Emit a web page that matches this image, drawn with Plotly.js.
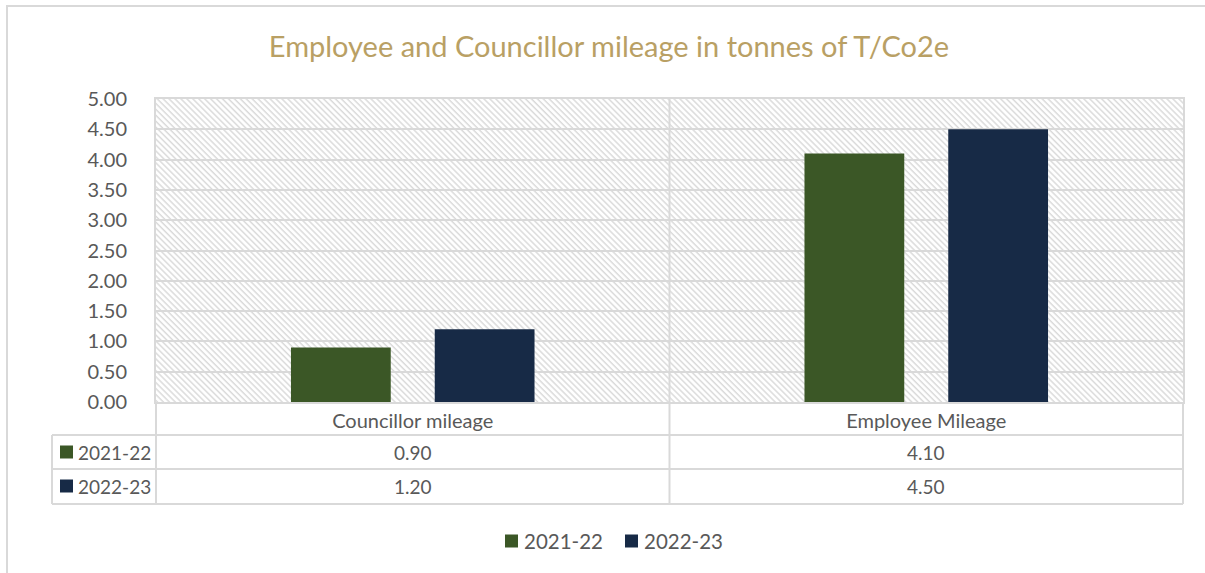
<!DOCTYPE html>
<html>
<head>
<meta charset="utf-8">
<script src="https://cdn.plot.ly/plotly-3.0.1.min.js"></script>
<style>html,body{margin:0;padding:0;background:#fff;}#chart{width:1205px;height:573px;}</style>
</head>
<body>
<div id="chart"></div>
<script>
// ---- data ----
const categories = ['Councillor mileage', 'Employee Mileage'];
const seriesNames = ['2021-22', '2022-23'];
const values2021_22 = [0.90, 4.10];
const values2022_23 = [1.20, 4.50];
const seriesColors = ['#3b5726', '#172a46'];
const chartTitle = 'Employee and Councillor mileage in tonnes of T/Co2e';

// ---- geometry ----
const W = 1205, H = 573;
const L = 156, R = 1183, T = 99, B = 402;
const pw = R - L, ph = B - T;
const px = x => (x - L) / pw;
const py = y => (B - y) / ph;
const grid = '#d9d9d9';
const textCol = '#595959';
const FONT = 'Lato, "Open Sans", sans-serif';

const seriesValues = [values2021_22, values2022_23];
const traces = seriesNames.map((name, i) => ({
  type: 'bar', name: name, x: categories, y: seriesValues[i],
  marker: {color: seriesColors[i], line: {width: 0}},
  hoverinfo: 'x+y+name', showlegend: false
}));

// hatch background
const hatch = "<svg xmlns='http://www.w3.org/2000/svg' width='" + pw + "' height='" + ph + "' preserveAspectRatio='none'>" +
  "<defs><pattern id='p' width='4.2' height='4.2' patternUnits='userSpaceOnUse' patternTransform='rotate(-45)'>" +
  "<line x1='1' y1='0' x2='1' y2='4.2' stroke='#dadada' stroke-width='1.5'/></pattern></defs>" +
  "<rect width='100%' height='100%' fill='url(#p)'/></svg>";

const line = (x0, y0, x1, y1, xref) => ({
  type: 'line', xref: xref || 'paper', yref: 'paper',
  x0: x0, y0: y0, x1: x1, y1: y1, line: {color: grid, width: 2}, layer: 'above'
});
const square = (x, y, color) => ({
  type: 'rect', xref: 'paper', yref: 'paper', x0: px(x), x1: px(x + 13), y0: py(y + 6.5), y1: py(y - 6.5),
  fillcolor: color, line: {width: 0}, layer: 'above'
});

const rowY = [452, 486];
const legSq = [505, 625];
const shapes = [
  // outer frame
  {type: 'rect', xref: 'paper', yref: 'paper', x0: px(7), y0: py(600), x1: px(1230), y1: py(6), line: {color: grid, width: 2}, fillcolor: 'rgba(0,0,0,0)'},
  line(px(52), py(435), px(R), py(435)),
  line(px(52), py(469), px(R), py(469)),
  line(px(52), py(504), px(R), py(504)),
  line(px(52), py(435), px(52), py(504)),
  line(px(L), py(B), px(L), py(504)),
  line(px(R), py(B), px(R), py(504)),
  line(0.5, py(T), 0.5, py(504), 'x')
];

const annotations = [];
seriesNames.forEach((name, i) => {
  // row header
  shapes.push(square(60, rowY[i], seriesColors[i]));
  annotations.push({
    xref: 'paper', yref: 'paper', x: px(76), y: py(rowY[i]), xanchor: 'left', yanchor: 'middle',
    text: name, showarrow: false, font: {family: FONT, size: 19, color: textCol}
  });
  // values
  categories.forEach((c, j) => {
    annotations.push({
      xref: 'x', yref: 'paper', x: c, y: py(rowY[i]), xanchor: 'center', yanchor: 'middle',
      text: seriesValues[i][j].toFixed(2), showarrow: false,
      font: {family: FONT, size: 19, color: textCol}
    });
  });
  // legend
  shapes.push(square(legSq[i], 541, seriesColors[i]));
  annotations.push({
    xref: 'paper', yref: 'paper', x: px(legSq[i] + 17), y: py(541), xanchor: 'left', yanchor: 'middle',
    text: name, showarrow: false, font: {family: FONT, size: 20.5, color: textCol}
  });
});

const layout = {
  width: W, height: H,
  margin: {l: L, r: W - R, t: T, b: H - B, pad: 0},
  paper_bgcolor: '#ffffff', plot_bgcolor: '#ffffff',
  font: {family: FONT, color: textCol},
  title: {text: chartTitle, x: 609 / W, xanchor: 'center', xref: 'container', y: 1 - 47 / H, yanchor: 'middle', yref: 'container',
    font: {family: FONT, size: 29, color: '#b9a064'}},
  barmode: 'group', bargap: 0.44, bargroupgap: 0.306,
  showlegend: false,
  xaxis: {type: 'category', showgrid: false, showline: true, mirror: true, linecolor: grid, linewidth: 2,
    ticks: '', tickfont: {family: FONT, size: 20, color: textCol}, ticklabelstandoff: 0, fixedrange: true},
  yaxis: {range: [0, 5], dtick: 0.5, tick0: 0, tickformat: '.2f', showgrid: true, gridcolor: grid, gridwidth: 2,
    zeroline: false, showline: true, mirror: true, linecolor: grid, linewidth: 2, ticks: '',
    tickfont: {family: FONT, size: 20, color: textCol}, ticklabelstandoff: 23, fixedrange: true},
  images: [{source: 'data:image/svg+xml;charset=utf-8,' + encodeURIComponent(hatch), xref: 'paper', yref: 'paper',
    x: 0, y: 1, sizex: 1, sizey: 1, xanchor: 'left', yanchor: 'top', sizing: 'stretch', layer: 'below'}],
  shapes: shapes,
  annotations: annotations
};

Plotly.newPlot('chart', traces, layout, {displayModeBar: false, staticPlot: true});
</script>
</body>
</html>
